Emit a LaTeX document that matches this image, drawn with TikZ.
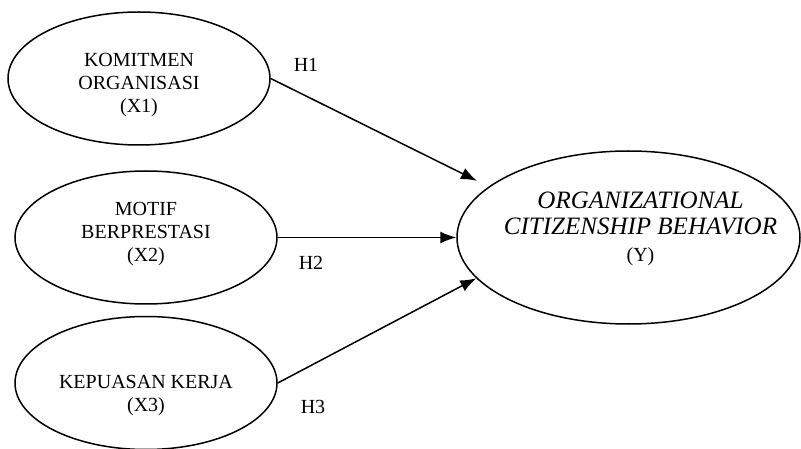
\documentclass[tikz,border=0pt]{standalone}
\usepackage{fontspec}
\setmainfont{Liberation Serif}
\usetikzlibrary{arrows.meta,positioning,shapes.geometric,calc}

\begin{document}
\begin{tikzpicture}[x=1pt, y=1pt,
    lv/.style={ellipse, draw, line width=1.5pt, inner sep=0pt,
               minimum width=262pt, minimum height=133pt},
    lvt/.style={align=center, font=\fontsize{20}{23}\selectfont},
    hyp/.style={-{Latex[length=16pt,width=12pt]}, line width=1.5pt},
    hl/.style={font=\fontsize{20}{23}\selectfont}
  ]
  \useasboundingbox (0,0) rectangle (801,-449);

  \node[lv, label={[lvt, yshift=-7pt]center:{KOMITMEN\\ORGANISASI\\(X1)}}]
       (x1) at (139,-78.5) {};
  \node[lv, label={[lvt, yshift=3pt]center:{MOTIF\\BERPRESTASI\\(X2)}}]
       (x2) at (146,-237.5) {};
  \node[lv, label={[lvt, yshift=-13pt]center:{KEPUASAN KERJA\\(X3)}}]
       (x3) at (146,-383) {};

  \node[lv, minimum width=343pt, minimum height=173pt,
        label={[lvt, xshift=12pt, yshift=9pt, font=\fontsize{25}{26.5}\selectfont]center:{\textit{ORGANIZATIONAL}\\\textit{CITIZENSHIP BEHAVIOR}\\{\fontsize{20}{26.5}\selectfont(Y)}}}]
       (y) at (628.5,-237.5) {};

  \draw[hyp, shorten >=13pt] (x1.east) -- (y.160.7);
  \draw[hyp] (x2) -- (y);
  \draw[hyp] (x3.east) -- (y.195);

  \node[hl] (h1) at (306,-65)  {H1};
  \node[hl] (h2) at (311,-263) {H2};
  \node[hl] (h3) at (313,-407) {H3};
\end{tikzpicture}
\end{document}
